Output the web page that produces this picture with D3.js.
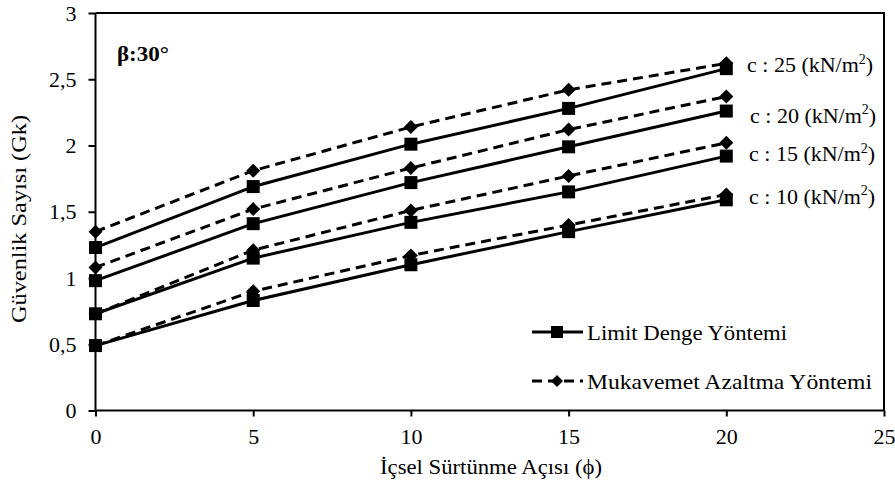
<!DOCTYPE html>
<html lang="tr">
<head>
<meta charset="UTF-8">
<title>Güvenlik Sayısı</title>
<style>
  html, body { margin: 0; padding: 0; background: #fff; }
  svg { display: block; font-family: "Liberation Serif", "Times New Roman", serif; }
  text { fill: #000; }
</style>
</head>
<body>
<svg id="chart" width="895" height="488"></svg>
<script src="https://cdn.jsdelivr.net/npm/d3@7"></script>
<script>
// veriler
const phi = [0, 5, 10, 15, 20];
const cLabels = ['c : 10 (kN/m²)', 'c : 15 (kN/m²)', 'c : 20 (kN/m²)', 'c : 25 (kN/m²)'];
const ld10 = [0.49, 0.83, 1.10, 1.35, 1.59];
const ld15 = [0.73, 1.15, 1.42, 1.65, 1.92];
const ld20 = [0.98, 1.41, 1.72, 1.99, 2.26];
const ld25 = [1.23, 1.69, 2.01, 2.28, 2.58];
const may10 = [0.49, 0.90, 1.17, 1.40, 1.63];
const may15 = [0.73, 1.21, 1.51, 1.77, 2.02];
const may20 = [1.08, 1.52, 1.83, 2.12, 2.37];
const may25 = [1.35, 1.81, 2.14, 2.42, 2.62];
const xTicks = [0, 5, 10, 15, 20, 25];
const yTicks = [0, 0.5, 1, 1.5, 2, 2.5, 3];

const svg = d3.select('#chart');
const m = { left: 95.5, right: 884, top: 13, bottom: 410.5 };

const x = d3.scaleLinear().domain([0, 25]).range([m.left, m.right]);
const y = d3.scaleLinear().domain([0, 3]).range([m.bottom, m.top]);

// çerçeve (üst ve sağ)
svg.append('path')
  .attr('d', `M${m.left},${m.top}H${m.right}V${m.bottom}`)
  .attr('fill', 'none').attr('stroke', '#000').attr('stroke-width', 2);

const fmt = d => String(d).replace('.', ',');

const xAxis = svg.append('g')
  .attr('transform', `translate(0,${m.bottom})`)
  .call(d3.axisBottom(x).tickValues(xTicks).tickSize(6).tickPadding(12).tickFormat(fmt));
const yAxis = svg.append('g')
  .attr('transform', `translate(${m.left},0)`)
  .call(d3.axisLeft(y).tickValues(yTicks).tickSize(7).tickPadding(12).tickFormat(fmt));

[xAxis, yAxis].forEach(a => {
  a.select('.domain').attr('stroke-width', 2).attr('d',
    a === xAxis ? `M${m.left},0H${m.right}` : `M0,${m.bottom}V${m.top}`);
  a.selectAll('.tick line').attr('stroke-width', 2);
  a.selectAll('.tick text').attr('font-size', 22)
    .attr('font-family', '"Liberation Serif", serif');
});

const line = d3.line().x((d, i) => x(phi[i])).y(d => y(d));
// kare ve dolgun baklava işaretleri
const sq = d3.symbol(d3.symbolSquare, 169);
const fatDiamond = {
  draw(ctx, size) {
    const r = Math.sqrt(size) / 2;
    ctx.moveTo(0, -r); ctx.lineTo(r, 0); ctx.lineTo(0, r); ctx.lineTo(-r, 0); ctx.closePath();
  }
};
const dia = d3.symbol(fatDiamond, 196);

function series(vals, dashed) {
  svg.append('path').datum(vals)
    .attr('d', line).attr('fill', 'none').attr('stroke', '#000')
    .attr('stroke-width', 3)
    .attr('stroke-dasharray', dashed ? '10,6' : null);
  svg.append('g').selectAll('path').data(vals).join('path')
    .attr('transform', (d, i) => `translate(${x(phi[i])},${y(d)})`)
    .attr('d', dashed ? dia : sq).attr('fill', '#000');
}

[may10, may15, may20, may25].forEach(v => series(v, true));
[ld10, ld15, ld20, ld25].forEach(v => series(v, false));

// seri etiketleri
const labelPos = [[749, 1.62], [749, 1.94], [750, 2.23], [747, 2.61]];
cLabels.forEach((t, i) => {
  const txt = svg.append('text')
    .attr('x', labelPos[i][0]).attr('y', y(labelPos[i][1]))
    .attr('dy', '0.35em').attr('font-size', 22);
  txt.append('tspan').text(t.replace('²)', ''));
  txt.append('tspan').attr('font-size', 14).attr('dy', '-0.6em').text('2');
  txt.append('tspan').attr('dy', '0.38em').attr('font-size', 22).text(')');
});

svg.append('text').attr('x', 117).attr('y', 61)
  .attr('font-size', 21).attr('font-weight', 'bold')
  .attr('textLength', 52).attr('lengthAdjust', 'spacingAndGlyphs').text('β:30°');

// lejant
const legend = [['Limit Denge Yöntemi', false, 332, 200], ['Mukavemet Azaltma Yöntemi', true, 381, 285]];
legend.forEach(([t, dashed, ly, w]) => {
  const g = svg.append('g');
  g.append('path').attr('d', `M532,${ly}H583`).attr('stroke', '#000').attr('stroke-width', 3)
    .attr('stroke-dasharray', dashed ? '10,6' : null);
  g.append('path').attr('transform', `translate(557,${ly})`)
    .attr('d', dashed ? d3.symbol(fatDiamond, 144) : d3.symbol(d3.symbolSquare, 144));
  g.append('text').attr('x', 587).attr('y', ly).attr('dy', '0.35em')
    .attr('font-size', 22).attr('textLength', w).attr('lengthAdjust', 'spacingAndGlyphs').text(t);
});

// eksen başlıkları
svg.append('text').attr('x', 380).attr('y', 474)
  .attr('font-size', 22).attr('textLength', 222).attr('lengthAdjust', 'spacingAndGlyphs')
  .text('İçsel Sürtünme Açısı (ϕ)');
svg.append('text').attr('transform', `translate(26,${m.top + 206}) rotate(-90)`)
  .attr('x', -104).attr('font-size', 22).attr('textLength', 208).attr('lengthAdjust', 'spacingAndGlyphs')
  .text('Güvenlik Sayısı (Gk)');
</script>
</body>
</html>
